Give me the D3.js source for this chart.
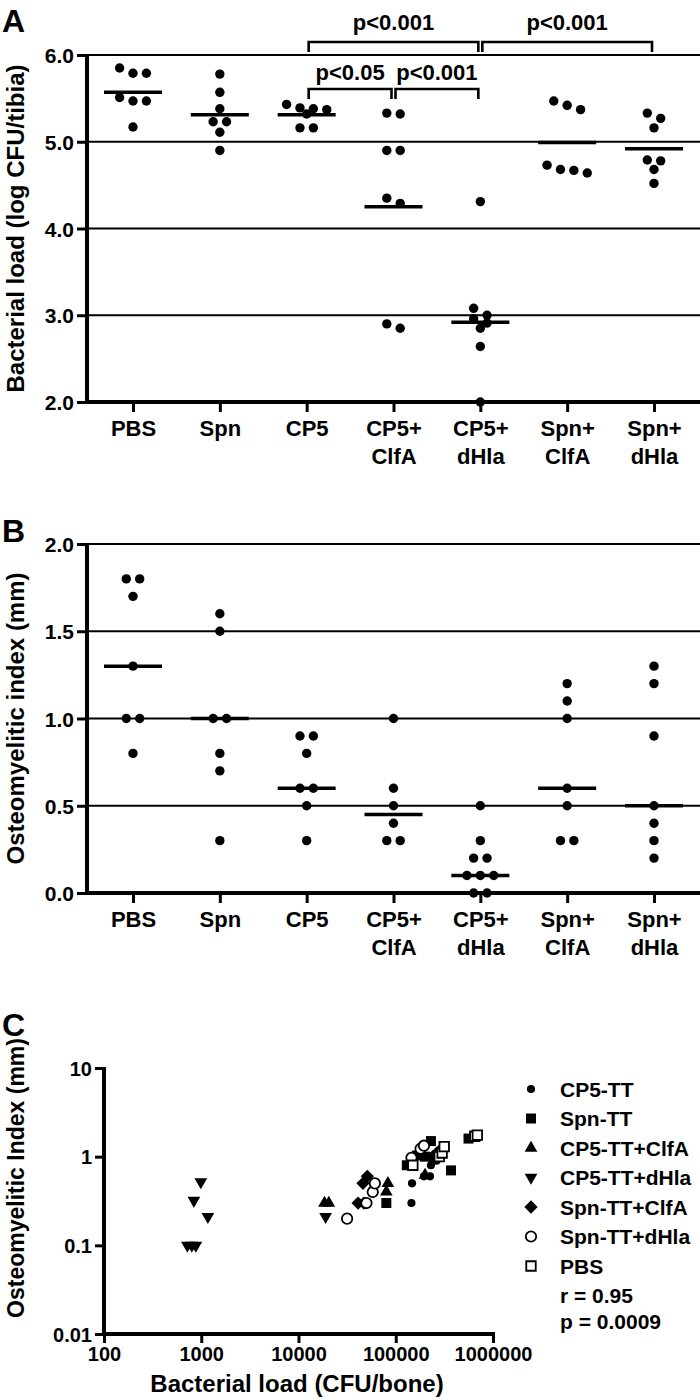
<!DOCTYPE html>
<html><head><meta charset="utf-8">
<script src="https://cdn.jsdelivr.net/npm/d3@7"></script>
<style>
body{margin:0;background:#fff}
svg{display:block}
text{font-family:"Liberation Sans",Arial,sans-serif;font-weight:bold;fill:#000}
</style>
</head><body>
<svg id="chart" width="700" height="1400"></svg>
<script>
// ---------- categories ----------
const groups = ["PBS","Spn","CP5","CP5+ClfA","CP5+dHla","Spn+ClfA","Spn+dHla"];
const catLine1 = ["PBS","Spn","CP5","CP5+","CP5+","Spn+","Spn+"];
const catLine2 = ["","","","ClfA","dHla","ClfA","dHla"];

// ---------- panel A: bacterial load (log CFU/tibia) ----------
const loadPBS     = [5.85,5.79,5.79,5.51,5.47,5.47,5.17];
const loadSpn     = [5.78,5.57,5.38,5.23,5.23,5.11,4.90];
const loadCP5     = [5.43,5.39,5.38,5.37,5.32,5.16,5.16];
const loadCP5ClfA = [5.33,5.32,4.90,4.90,4.35,4.29,2.90,2.85];
const loadCP5dHla = [4.31,3.08,3.00,2.96,2.91,2.85,2.64,2.00];
const loadSpnClfA = [5.47,5.42,5.37,4.73,4.68,4.67,4.64];
const loadSpndHla = [5.33,5.27,5.16,4.79,4.78,4.68,4.52];
const loadMeans   = [5.57,5.31,5.31,4.25,2.92,4.99,4.92];
const loadTicks   = [2,3,4,5,6];

const compFrom  = ["CP5","CP5+dHla","CP5","CP5+ClfA"];
const compTo    = ["CP5+dHla","Spn+dHla","CP5+ClfA","CP5+dHla"];
const compLabel = ["p<0.001","p<0.001","p<0.05","p<0.001"];
const compTier  = [2,2,1,1];

// ---------- panel B: osteomyelitic index (mm) ----------
const omPBS     = [1.8,1.8,1.7,1.3,1.0,1.0,0.8];
const omSpn     = [1.6,1.5,1.0,1.0,0.8,0.7,0.3];
const omCP5     = [0.9,0.9,0.8,0.6,0.6,0.5,0.3];
const omCP5ClfA = [1.0,0.6,0.5,0.4,0.3,0.3];
const omCP5dHla = [0.5,0.3,0.2,0.2,0.1,0.1,0.1,0.0,0.0];
const omSpnClfA = [1.2,1.1,1.0,0.6,0.5,0.3,0.3];
const omSpndHla = [1.3,1.2,0.9,0.5,0.4,0.3,0.2];
const omMedians = [1.3,1.0,0.6,0.45,0.1,0.6,0.5];
const omTicks   = [0,0.5,1,1.5,2];

// ---------- panel C: CFU/bone vs osteomyelitic index ----------
const seriesC = ["CP5-TT","Spn-TT","CP5-TT+ClfA","CP5-TT+dHla","Spn-TT+ClfA","Spn-TT+dHla","PBS"];
const cCP5     = [[145000,0.3],[147000,0.5],[195000,0.6],[230000,0.8],[240000,0.9],[262000,0.9],[225000,0.6]];
const cSpn     = [[80000,0.3],[130000,0.8],[165000,1.03],[200000,1.0],[230000,1.5],[370000,0.7],[560000,1.6]];
const cCP5ClfA = [[18500,0.3],[20500,0.3],[80000,0.4],[83000,0.5],[200000,0.62],[250000,1.0]];
const cCP5dHla = [[990,0.52],[840,0.32],[1170,0.21],[720,0.1],[800,0.1],[880,0.1],[19000,0.21]];
const cSpnClfA = [[41000,0.3],[47000,0.3],[46000,0.5],[51000,0.6],[240000,1.0],[265000,1.1],[290000,1.2]];
const cSpndHla = [[31600,0.2],[50000,0.3],[58000,0.4],[61000,0.5],[145000,0.97],[180000,1.23],[195000,1.33]];
const cPBS     = [[150000,0.8],[280000,1.0],[300000,1.1],[315000,1.3],[650000,1.7],[690000,1.75]];
const cXTicks  = [100,1000,10000,100000,1000000];
const cYTicks  = [0.01,0.1,1,10];
const cStats   = ["r = 0.95","p = 0.0009"];

// ---------- drawing ----------
const svg = d3.select("#chart");
const AX = 87, RIGHT = 700;
const x = d3.scalePoint().domain(groups).range([133, 654]);

function swarm(vals, y, thr, sp){
  const pts = vals.map(v => ({v, py: y(v)})).sort((a,b) => a.py - b.py);
  const rows = []; let cur = null;
  pts.forEach(p => {
    if (cur && p.py - cur[0].py < thr) cur.push(p);
    else { cur = [p]; rows.push(cur); }
  });
  rows.forEach(r => r.forEach((p,i) => p.dx = (i - (r.length-1)/2) * sp));
  return pts;
}

function dotPanel(o){
  const g = svg.append("g");
  const y = o.y;
  const [y0] = y.range();
  // gridlines
  g.selectAll("line.grid").data(o.ticks.filter(t => t !== o.ticks[0])).join("line")
    .attr("x1", AX).attr("x2", RIGHT).attr("y1", d => y(d)).attr("y2", d => y(d))
    .attr("stroke", "#000").attr("stroke-width", 1.8);
  // y axis ticks + labels
  const gy = g.append("g").attr("transform", `translate(${AX},0)`)
    .call(d3.axisLeft(y).tickValues(o.ticks).tickFormat(d3.format(".1f")).tickSize(10).tickSizeOuter(0).tickPadding(3));
  gy.select(".domain").remove();
  gy.selectAll(".tick line").attr("stroke","#000").attr("stroke-width",3);
  gy.selectAll(".tick text").attr("fill","#000").style("font-size","21px").style("font-family",'"Liberation Sans",Arial,sans-serif').style("font-weight","bold").attr("dy","0.36em");
  // x axis ticks + labels
  const gx = g.append("g").attr("transform", `translate(0,${y0})`)
    .call(d3.axisBottom(x).tickSize(10).tickSizeOuter(0).tickFormat(""));
  gx.select(".domain").remove();
  gx.selectAll(".tick line").attr("stroke","#000").attr("stroke-width",3);
  gx.selectAll(".tick").each(function(d,i){
    const t = d3.select(this);
    t.select("text").remove();
    t.append("text").attr("text-anchor","middle").attr("y",34).style("font-size","22px").text(catLine1[i]);
    if (catLine2[i]) t.append("text").attr("text-anchor","middle").attr("y",62).style("font-size","22px").text(catLine2[i]);
  });
  // axis lines
  g.append("line").attr("x1",AX).attr("x2",AX).attr("y1",y(o.ticks[o.ticks.length-1])-1).attr("y2",y0+2)
    .attr("stroke","#000").attr("stroke-width",4);
  g.append("line").attr("x1",AX-2).attr("x2",RIGHT).attr("y1",y0).attr("y2",y0)
    .attr("stroke","#000").attr("stroke-width",4);
  // dots
  o.data.forEach((vals, gi) => {
    const pts = swarm(vals, y, 9, 13.4);
    g.append("g").selectAll("circle").data(pts).join("circle")
      .attr("cx", p => x(groups[gi]) + p.dx).attr("cy", p => p.py).attr("r", 4.7).attr("fill","#000");
  });
  // centre lines
  g.selectAll("line.ctr").data(o.centers).join("line")
    .attr("x1", (d,i) => x(groups[i]) - 29).attr("x2", (d,i) => x(groups[i]) + 29)
    .attr("y1", d => y(d)).attr("y2", d => y(d)).attr("stroke","#000").attr("stroke-width",3.5);
  // y title
  const [ya, yb] = y.range();
  g.append("text").attr("transform", `translate(24,${(ya+yb)/2}) rotate(-90)`).attr("text-anchor","middle")
    .style("font-size","24px").text(o.title);
  // panel letter
  g.append("text").attr("x",2).attr("y",o.letterY).style("font-size","32px").text(o.letter);
}

// Panel A
const yA = d3.scaleLinear().domain([2,6]).range([402,55]);
dotPanel({y: yA, ticks: loadTicks,
  data: [loadPBS, loadSpn, loadCP5, loadCP5ClfA, loadCP5dHla, loadSpnClfA, loadSpndHla],
  centers: loadMeans, title: "Bacterial load (log CFU/tibia)", letter: "A", letterY: 32});

// comparison brackets
const tierLine = {2: 42, 1: 89}, tierText = {2: 30, 1: 80};
compFrom.forEach((f, i) => {
  const x1 = x(f) + 2, x2 = x(compTo[i]) - 2, yl = tierLine[compTier[i]];
  svg.append("path").attr("d", `M${x1},${yl+10}V${yl}H${x2}V${yl+10}`)
    .attr("fill","none").attr("stroke","#000").attr("stroke-width",2.6);
  svg.append("text").attr("x",(x(f)+x(compTo[i]))/2).attr("y",tierText[compTier[i]]).attr("text-anchor","middle")
    .style("font-size","22px").text(compLabel[i]);
});

// Panel B
const yB = d3.scaleLinear().domain([0,2]).range([893,544]);
dotPanel({y: yB, ticks: omTicks,
  data: [omPBS, omSpn, omCP5, omCP5ClfA, omCP5dHla, omSpnClfA, omSpndHla],
  centers: omMedians, title: "Osteomyelitic index (mm)", letter: "B", letterY: 542});

// Panel C
const AXC = 104;
const xC = d3.scaleLog().domain([100,1e6]).range([AXC, 493]);
const yC = d3.scaleLog().domain([0.01,10]).range([1334,1068]);
const gC = svg.append("g");
const gcy = gC.append("g").attr("transform",`translate(${AXC},0)`)
  .call(d3.axisLeft(yC).tickValues(cYTicks).tickFormat(d => String(d)).tickSize(9).tickSizeOuter(0).tickPadding(3));
gcy.select(".domain").remove();
gcy.selectAll(".tick line").attr("stroke","#000").attr("stroke-width",3);
gcy.selectAll(".tick text").attr("fill","#000").style("font-size","20px").style("font-family",'"Liberation Sans",Arial,sans-serif').style("font-weight","bold").attr("dy","0.36em");
const gcx = gC.append("g").attr("transform",`translate(0,1334)`)
  .call(d3.axisBottom(xC).tickValues(cXTicks).tickFormat(d3.format("d")).tickSize(9).tickSizeOuter(0).tickPadding(4));
gcx.select(".domain").remove();
gcx.selectAll(".tick line").attr("stroke","#000").attr("stroke-width",3);
gcx.selectAll(".tick text").attr("fill","#000").style("font-size","20px").style("font-family",'"Liberation Sans",Arial,sans-serif').style("font-weight","bold");
gC.append("line").attr("x1",AXC).attr("x2",AXC).attr("y1",1067).attr("y2",1336).attr("stroke","#000").attr("stroke-width",4);
gC.append("line").attr("x1",AXC-2).attr("x2",495).attr("y1",1334).attr("y2",1334).attr("stroke","#000").attr("stroke-width",4);

const symCircle = d3.symbol().type(d3.symbolCircle).size(52)();
const symSquare = d3.symbol().type(d3.symbolSquare).size(100)();
const symTri    = d3.symbol().type(d3.symbolTriangle).size(70)();
const symDiam   = d3.symbol().type(d3.symbolSquare).size(88)();
const symOpenC  = d3.symbol().type(d3.symbolCircle).size(85)();
const symOpenS  = d3.symbol().type(d3.symbolSquare).size(90)();
const markers = [
  {d: symCircle, rot: 0,   fill: "#000", stroke: "none"},
  {d: symSquare, rot: 0,   fill: "#000", stroke: "none"},
  {d: symTri,    rot: 0,   fill: "#000", stroke: "none"},
  {d: symTri,    rot: 180, fill: "#000", stroke: "none"},
  {d: symDiam,   rot: 45,  fill: "#000", stroke: "none"},
  {d: symOpenC,  rot: 0,   fill: "#fff", stroke: "#000"},
  {d: symOpenS,  rot: 0,   fill: "#fff", stroke: "#000"}
];
const cData = [cCP5, cSpn, cCP5ClfA, cCP5dHla, cSpnClfA, cSpndHla, cPBS];
cData.forEach((pts, si) => {
  const m = markers[si];
  gC.append("g").selectAll("path").data(pts).join("path")
    .attr("d", m.d)
    .attr("transform", p => `translate(${xC(p[0])},${yC(p[1])}) rotate(${m.rot})`)
    .attr("fill", m.fill).attr("stroke", m.stroke).attr("stroke-width", 1.8);
});

// legend
const legY = d3.scaleLinear().domain([0,1]).range([1089, 1118.5]);
seriesC.forEach((s, i) => {
  const m = markers[i];
  const cy = legY(i);
  gC.append("path").attr("d", m.d).attr("transform",`translate(531,${cy}) rotate(${m.rot})`)
    .attr("fill", m.fill).attr("stroke", m.stroke).attr("stroke-width", 1.8);
  gC.append("text").attr("x",560).attr("y",cy+7.5).style("font-size","21px").text(s);
});
cStats.forEach((s, i) => {
  gC.append("text").attr("x",560).attr("y",legY(seriesC.length + i) + 7.5 - 4*i).style("font-size","21px").text(s);
});

// titles
gC.append("text").attr("x",297).attr("y",1392).attr("text-anchor","middle").style("font-size","24px").text("Bacterial load (CFU/bone)");
gC.append("text").attr("transform","translate(24,1178) rotate(-90)").attr("text-anchor","middle").style("font-size","23px").text("Osteomyelitic Index (mm)");
gC.append("text").attr("x",2).attr("y",1036).style("font-size","32px").text("C");
</script>
</body></html>
